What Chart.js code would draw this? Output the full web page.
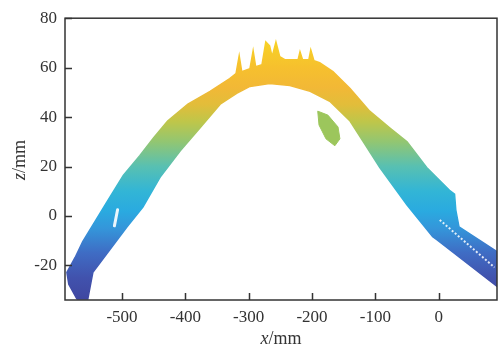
<!DOCTYPE html>
<html>
<head>
<meta charset="utf-8">
<script src="https://cdn.jsdelivr.net/npm/chart.js@4.4.0/dist/chart.umd.min.js"></script>
<style>
  html, body { margin: 0; padding: 0; background: #fff; }
  #wrap { width: 498px; height: 347px; }
</style>
</head>
<body>
<div id="wrap"><canvas id="surf"></canvas></div>
<script>
// outer edge of the scanned arch, left to right (x/mm, z/mm)
var upperX = [-571, -584, -587, -574, -562, -543, -524, -498, -472, -450, -428, -396, -361, -330, -320, -315, -311, -298, -293, -289, -279, -273, -267, -263, -257, -251, -243, -222, -219, -215, -205, -202, -197, -188, -167, -140, -109, -77, -50, -19, 17, 25, 27, 32, 91.5];
var upperZ = [-33.6, -27.6, -22.8, -16.8, -10.4, -2.4, 5.6, 16.4, 24.4, 31.6, 38.4, 45.2, 50.4, 55.6, 57.6, 64.8, 58.4, 59.6, 66.8, 60.4, 61.2, 70.4, 68.8, 64.4, 70.4, 64.4, 63.2, 63.2, 66.4, 63.2, 63.2, 67.2, 62.8, 62, 58.4, 51.6, 42.4, 35.6, 30, 19.6, 10.4, 8.8, 2.4, -4.4, -14.4];
// inner edge, right to left
var lowerX = [91.5, -3, -9.5, -50, -93, -120, -140, -172, -203, -235, -267, -298, -319, -345, -377, -408, -440, -467, -492, -519, -546, -554];
var lowerZ = [-28.4, -9.6, -8.4, 4.4, 19.6, 30.4, 38.4, 46.4, 50.4, 52.8, 53.6, 52.4, 49.6, 45.2, 35.6, 26.4, 15.6, 3.6, -4.4, -13.6, -22.8, -33.6];
// detached patch under the right shoulder
var blobX = [-191, -175, -159, -156, -164, -178, -189];
var blobZ = [42.4, 40.8, 36, 31.2, 28.4, 31.2, 36.8];
// seam in the lower right strip
var seamX = [1.6, 88];
var seamZ = [-1.6, -20.8];
// hole on the left leg
var holeX = [-507, -512];
var holeZ = [2.5, -4];

var xTicks = [-500, -400, -300, -200, -100, 0];
var zTicks = [-20, 0, 20, 40, 60, 80];

function pts(xs, zs) {
  return xs.map(function (x, i) { return { x: x, y: zs[i] }; });
}
var band = pts(upperX.concat(lowerX), upperZ.concat(lowerZ));
band.push(band[0]);
var blob = pts(blobX, blobZ);
blob.push(blob[0]);

// colour by height, parula-like
var cmap = [[-34, '#3f46a0'], [-25, '#4152ad'], [-15, '#3f6cc4'], [-5, '#3496da'], [2, '#2aaae0'], [10, '#32b5d6'], [20, '#58c0b2'], [30, '#92c672'], [38, '#bec64a'], [45, '#e2bd3a'], [52, '#f2b836'], [60, '#f6c02e'], [72, '#f8d424']];
function zFill(ctx) {
  var ch = ctx.chart;
  if (!ch.chartArea) return '#2aaae0';
  var sy = ch.scales.y;
  var g = ch.ctx.createLinearGradient(0, sy.getPixelForValue(-34), 0, sy.getPixelForValue(72));
  cmap.forEach(function (s) { g.addColorStop((s[0] + 34) / 106, s[1]); });
  return g;
}

var SERIF = '"Liberation Serif", "Times New Roman", serif';

function mixed(c, it, rest, size) {
  c.font = 'italic ' + size + 'px ' + SERIF;
  var w1 = c.measureText(it).width;
  c.font = size + 'px ' + SERIF;
  var w2 = c.measureText(rest).width;
  var x0 = -(w1 + w2) / 2;
  c.textAlign = 'left';
  c.textBaseline = 'alphabetic';
  c.font = 'italic ' + size + 'px ' + SERIF;
  c.fillText(it, x0, 0);
  c.font = size + 'px ' + SERIF;
  c.fillText(rest, x0 + w1, 0);
}

var frame = {
  id: 'frame',
  afterDraw: function (ch) {
    var c = ch.ctx, a = ch.chartArea, sx = ch.scales.x, sy = ch.scales.y;
    c.save();
    c.strokeStyle = '#333';
    c.lineWidth = 1.5;
    c.strokeRect(a.left, a.top, a.right - a.left, a.bottom - a.top);
    c.beginPath();
    xTicks.forEach(function (v) {
      var p = Math.round(sx.getPixelForValue(v)) + 0.5;
      c.moveTo(p, a.bottom); c.lineTo(p, a.bottom - 7);
    });
    zTicks.forEach(function (v) {
      var p = Math.round(sy.getPixelForValue(v)) + 0.5;
      c.moveTo(a.left, p); c.lineTo(a.left + 7, p);
    });
    c.stroke();
    c.fillStyle = '#333';
    c.save();
    c.translate((a.left + a.right) / 2, 344);
    mixed(c, 'x', '/mm', 18);
    c.restore();
    c.save();
    c.translate(25, (a.top + a.bottom) / 2 + 1);
    c.rotate(-Math.PI / 2);
    mixed(c, 'z', '/mm', 18);
    c.restore();
    c.restore();
  }
};

new Chart(document.getElementById('surf'), {
  type: 'line',
  data: {
    datasets: [
      { data: pts(holeX, holeZ), borderColor: 'rgba(255,255,255,0.9)', borderWidth: 3, borderCapStyle: 'round', fill: false, pointRadius: 0, order: 0 },
      { data: pts(seamX, seamZ), borderColor: 'rgba(255,255,255,0.85)', borderWidth: 2, borderDash: [2, 2], fill: false, pointRadius: 0, order: 1 },
      { data: blob, backgroundColor: '#9cc65c', borderColor: '#9cc65c', borderWidth: 1, fill: 'shape', pointRadius: 0, order: 2 },
      { data: band, backgroundColor: zFill, borderColor: zFill, borderWidth: 1.5, fill: 'shape', pointRadius: 0, order: 3 }
    ]
  },
  options: {
    responsive: true,
    maintainAspectRatio: false,
    animation: false,
    layout: { padding: { top: 17, right: 1, left: 0, bottom: 0 } },
    elements: { line: { tension: 0 } },
    plugins: { legend: { display: false }, tooltip: { enabled: false } },
    scales: {
      x: {
        type: 'linear',
        min: -590,
        max: 92,
        afterBuildTicks: function (s) { s.ticks = xTicks.map(function (v) { return { value: v }; }); },
        afterFit: function (s) { s.height = 47; },
        grid: { display: false, drawTicks: false },
        border: { display: false },
        ticks: { color: '#333', padding: 7, maxRotation: 0, font: { family: SERIF, size: 17 } }
      },
      y: {
        type: 'linear',
        min: -34,
        max: 80,
        afterBuildTicks: function (s) { s.ticks = zTicks.map(function (v) { return { value: v }; }); },
        afterFit: function (s) { s.width = 65; },
        grid: { display: false, drawTicks: false },
        border: { display: false },
        ticks: { color: '#333', padding: 8, font: { family: SERIF, size: 17 } }
      }
    }
  },
  plugins: [frame]
});
</script>
</body>
</html>
